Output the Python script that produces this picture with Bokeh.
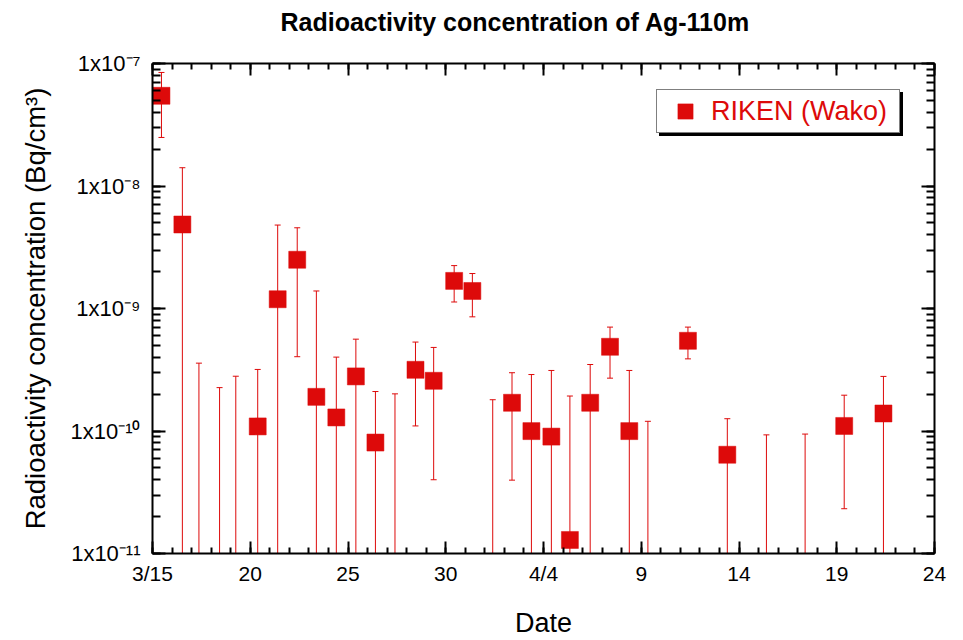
import numpy as np
import pandas as pd
from bokeh.plotting import figure
from bokeh.models import (Range1d, LogAxis, LinearAxis, FixedTicker,
                          Legend, LegendItem, CustomJSTickFormatter)
from bokeh.embed import file_html
from bokeh.resources import INLINE

# ---------------- data ----------------
dates = ["03-15 11:00", "03-16 12:40", "03-17 09:00", "03-18 10:20", "03-19 06:15",
         "03-20 09:10", "03-21 09:40", "03-22 09:40", "03-23 09:10", "03-24 09:40",
         "03-25 09:40", "03-26 09:40", "03-27 09:40", "03-28 10:50", "03-29 09:10",
         "03-30 10:20", "03-31 08:40", "04-01 09:40", "04-02 09:20", "04-03 09:10",
         "04-04 09:40", "04-05 08:25", "04-06 09:20", "04-07 09:40", "04-08 09:20",
         "04-09 08:10", "04-11 09:20", "04-13 09:40", "04-15 09:40", "04-17 09:10",
         "04-19 09:10", "04-21 09:20"]
conc = [5.45e-8, 4.85e-9, None, None, None,
        1.09e-10, 1.19e-9, 2.50e-9, 1.90e-10, 1.29e-10,
        2.79e-10, 8.05e-11, None, 3.16e-10, 2.57e-10,
        1.68e-9, 1.39e-9, None, 1.70e-10, 9.98e-11,
        9.00e-11, 1.29e-11, 1.70e-10, 4.87e-10, 9.98e-11,
        None, 5.45e-10, 6.40e-11, None, None,
        1.10e-10, 1.39e-10]
err_upper = [8.45e-8, 1.41e-8, 3.58e-10, 2.26e-10, 2.80e-10,
             3.18e-10, 4.80e-9, 4.56e-9, 1.39e-9, 4.01e-10,
             5.62e-10, 2.10e-10, 2.01e-10, 5.32e-10, 4.81e-10,
             2.24e-9, 1.93e-9, 1.80e-10, 2.99e-10, 2.89e-10,
             3.12e-10, 1.93e-10, 3.49e-10, 7.05e-10, 3.12e-10,
             1.20e-10, 7.05e-10, 1.26e-10, 9.30e-11, 9.44e-11,
             1.96e-10, 2.79e-10]
err_lower = [2.49e-8, None, None, None, None,
             None, None, 4.04e-10, None, None,
             None, None, None, 1.10e-10, 4.00e-11,
             1.13e-9, 8.55e-10, None, 3.97e-11, None,
             None, None, None, 2.70e-10, None,
             None, 3.88e-10, None, None, None,
             2.32e-11, None]
x_tick_days = [0, 5, 10, 15, 20, 25, 30, 35, 40]
x_tick_labels = ["3/15", "20", "25", "30", "4/4", "9", "14", "19", "24"]
y_decades = [-11, -10, -9, -8, -7]
series_name = "RIKEN (Wako)"

# ---------------- derived ----------------
origin = pd.Timestamp("2011-03-15")
days = ((pd.to_datetime(["2011-" + d for d in dates]) - origin) / pd.Timedelta(days=1)).to_numpy()
conc_a = np.array([np.nan if v is None else v for v in conc], dtype=float)
up_a = np.array(err_upper, dtype=float)
lo_a = np.array([np.nan if v is None else v for v in err_lower], dtype=float)

x_start, x_end = x_tick_days[0], x_tick_days[-1]
y_lo, y_hi = 10.0 ** y_decades[0], 10.0 ** y_decades[-1]

RED = "#dd0a0a"
FONT = "Liberation Sans"

p = figure(width=963, height=640, output_backend="svg", toolbar_location=None,
           x_range=Range1d(x_start, x_end), y_range=Range1d(y_lo, y_hi),
           y_axis_type="log",
           x_axis_location=None, y_axis_location=None,
           min_border_left=152, min_border_right=29, min_border_top=63, min_border_bottom=87)
p.xgrid.visible = False
p.ygrid.visible = False
p.outline_line_color = None
p.background_fill_color = "white"
p.border_fill_color = "white"

blank = CustomJSTickFormatter(code="return ''")
sci = CustomJSTickFormatter(code="""
const sup = {"-": "\\u207b", "0": "\\u2070", "1": "\\u00b9", "2": "\\u00b2", "3": "\\u00b3",
             "4": "\\u2074", "5": "\\u2075", "6": "\\u2076", "7": "\\u2077", "8": "\\u2078", "9": "\\u2079"};
const e = Math.round(Math.log10(tick));
return "1x10" + String(e).split("").map(c => sup[c]).join("");
""")

xticker = FixedTicker(ticks=x_tick_days, minor_ticks=list(range(x_start, x_end + 1)))
ymaj = [10.0 ** d for d in y_decades]
ymin = [k * 10.0 ** d for d in y_decades[:-1] for k in range(1, 10)] + [y_hi]
yticker = FixedTicker(ticks=ymaj, minor_ticks=ymin)


def style(ax, major_len, minor_len):
    ax.axis_line_width = 2
    ax.axis_line_color = "black"
    ax.major_tick_line_width = 2
    ax.minor_tick_line_width = 2
    ax.major_tick_in = major_len
    ax.major_tick_out = 0
    ax.minor_tick_in = minor_len
    ax.minor_tick_out = 0


xb = LinearAxis(ticker=xticker,
                major_label_overrides={d: l for d, l in zip(x_tick_days, x_tick_labels)},
                axis_label="Date")
style(xb, 12, 6)
xb.major_label_text_font = FONT
xb.major_label_text_font_size = "21px"
xb.major_label_text_color = "black"
xb.major_label_standoff = 8
xb.axis_label_text_font = FONT
xb.axis_label_text_font_size = "27px"
xb.axis_label_text_font_style = "normal"
xb.axis_label_text_color = "black"
xb.axis_label_standoff = 20
p.add_layout(xb, "below")

xt = LinearAxis(ticker=xticker, formatter=blank, major_label_standoff=0,
                major_label_text_font_size="1px")
style(xt, 12, 6)
p.add_layout(xt, "above")

yl = LogAxis(ticker=yticker, formatter=sci,
             major_label_text_font=FONT, major_label_text_font_size="22px",
             major_label_text_color="black", major_label_standoff=12,
             axis_label="Radioactivity concentration (Bq/cm\u00b3)")
style(yl, 13, 8)
yl.axis_label_text_font = FONT
yl.axis_label_text_font_size = "27.5px"
yl.axis_label_text_font_style = "normal"
yl.axis_label_text_color = "black"
yl.axis_label_standoff = 16
p.add_layout(yl, "left")

yr = LogAxis(ticker=yticker, formatter=blank, major_label_standoff=0,
             major_label_text_font_size="1px")
style(yr, 13, 8)
p.add_layout(yr, "right")

# error bars
bottom_fill = y_lo / 10.0
seg_lo = np.where(np.isnan(lo_a), bottom_fill, lo_a)
p.segment(x0=days, y0=seg_lo, x1=days, y1=up_a, line_color=RED, line_width=1)
p.scatter(x=days, y=up_a, marker="dash", size=6, line_color=RED, line_width=1)
has_lo = ~np.isnan(lo_a)
p.scatter(x=days[has_lo], y=lo_a[has_lo], marker="dash", size=6, line_color=RED, line_width=1)

has_v = ~np.isnan(conc_a)
sq = p.scatter(x=days[has_v], y=conc_a[has_v], marker="square", size=17,
               fill_color=RED, line_color=RED, line_width=0.5)

# title (second empty line lifts the text inside the 63 px top border)
p.title.text = "Radioactivity concentration of Ag-110m\n "
p.title.text_font = FONT
p.title.text_font_size = "25px"
p.title.text_font_style = "bold"
p.title.text_color = "black"
p.title.align = "left"
p.title.offset = 128
p.title.standoff = 0

# legend with drop shadow
dummy = p.scatter(x=[], y=[], marker="square", size=1, alpha=0)
common = dict(border_line_width=1.5, padding=2, spacing=0, margin=0,
              glyph_width=52, glyph_height=38, label_standoff=0,
              label_width=186, label_height=38, background_fill_alpha=1.0)
shadow = Legend(items=[LegendItem(label=" ", renderers=[dummy])], location=(507, 417),
                background_fill_color="black", border_line_color="black",
                label_text_font_size="2px", **common)
p.add_layout(shadow)
leg = Legend(items=[LegendItem(label=series_name, renderers=[sq])], location=(504, 420),
             background_fill_color="white", border_line_color="black",
             label_text_font=FONT, label_text_font_size="27px", label_text_color=RED, **common)
p.add_layout(leg)

open("out.html", "w").write(file_html(p, INLINE))
